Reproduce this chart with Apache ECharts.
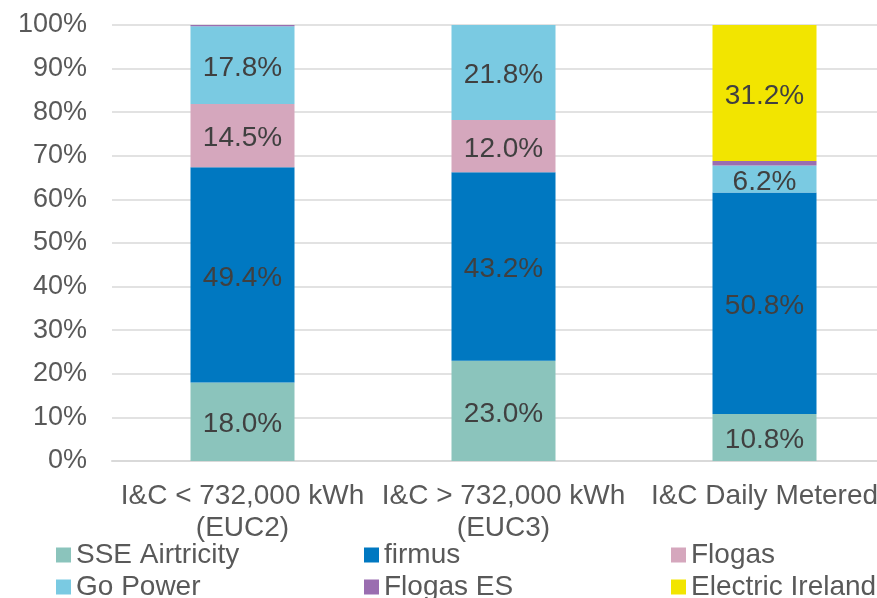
<!DOCTYPE html>
<html>
<head>
<meta charset="utf-8">
<script src="https://cdn.jsdelivr.net/npm/echarts@6/dist/echarts.min.js"></script>
<style>html,body{margin:0;padding:0;background:#fff;overflow:hidden;width:877px;height:598px;}#c{width:895px;height:598px;}</style>
</head>
<body>
<div id="c"></div>
<script>
const categories = ['I&C < 732,000 kWh\n(EUC2)', 'I&C > 732,000 kWh\n(EUC3)', 'I&C Daily Metered'];
const seriesNames = ['SSE Airtricity', 'firmus', 'Flogas', 'Go Power', 'Flogas ES', 'Electric Ireland'];
const sseAirtricity = [18.0, 23.0, 10.8];
const firmus = [49.4, 43.2, 50.8];
const flogas = [14.5, 12.0, 0];
const goPower = [17.8, 21.8, 6.2];
const flogasES = [0.3, 0, 1.0];
const electricIreland = [0, 0, 31.2];
const colors = ['#8BC4BC', '#0078C1', '#D5A7BD', '#7ACAE2', '#9A6DB0', '#F2E500'];

const font = 'Liberation Sans, Arial, sans-serif';
const values = [sseAirtricity, firmus, flogas, goPower, flogasES, electricIreland];

const chart = echarts.init(document.getElementById('c'), null, {renderer: 'canvas'});
const legendBase = {
  orient: 'vertical', itemWidth: 15, itemHeight: 15, itemGap: 4, top: 541, height: 80,
  icon: 'rect', padding: 0,
  textStyle: {fontFamily: font, fontSize: 28, color: '#595959', lineHeight: 28}
};
chart.setOption({
  animation: false,
  color: colors,
  grid: {left: 112, right: 0, top: 25, bottom: 137, containLabel: false},
  legend: [
    Object.assign({}, legendBase, {left: 56, data: [seriesNames[0], seriesNames[3]]}),
    Object.assign({}, legendBase, {left: 364, data: [seriesNames[1], seriesNames[4]]}),
    Object.assign({}, legendBase, {left: 671, data: [seriesNames[2], seriesNames[5]]})
  ],
  xAxis: {
    type: 'category', data: categories,
    axisLine: {show: true, lineStyle: {color: '#D9D9D9', width: 2}},
    axisTick: {show: false},
    axisLabel: {interval: 0, margin: 19, fontFamily: font, fontSize: 28, color: '#595959', lineHeight: 32}
  },
  yAxis: {
    type: 'value', min: 0, max: 100, interval: 10,
    axisLine: {show: false}, axisTick: {show: false},
    splitLine: {lineStyle: {color: '#D9D9D9', width: 1.5}},
    axisLabel: {formatter: '{value}%', margin: 25, fontFamily: font, fontSize: 27, color: '#595959'}
  },
  series: seriesNames.map((name, i) => ({
    name, type: 'bar', stack: 'total', barWidth: 104,
    data: values[i],
    label: {
      show: true, position: 'inside', offset: [0, 3], fontFamily: font, fontSize: 28, color: '#404040',
      formatter: p => (p.value >= 5 ? p.value.toFixed(1) + '%' : '')
    }
  }))
});
</script>
</body>
</html>
